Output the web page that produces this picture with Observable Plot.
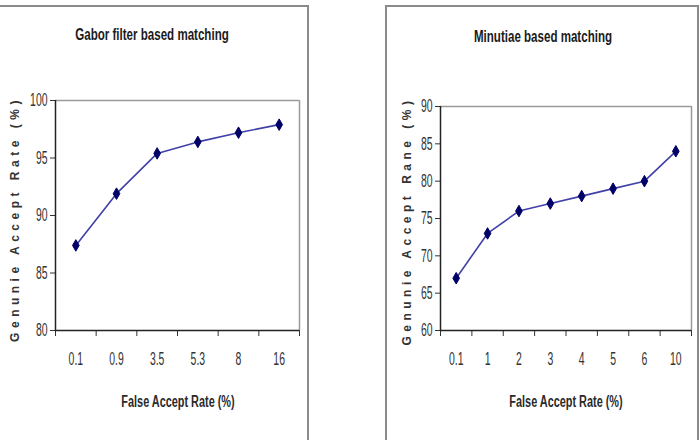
<!DOCTYPE html>
<html>
<head>
<meta charset="utf-8">
<script src="https://cdn.jsdelivr.net/npm/d3@7"></script>
<script src="https://cdn.jsdelivr.net/npm/@observablehq/plot@0.6"></script>
<style>
  html, body { margin: 0; padding: 0; background: #fff; }
  #page { position: relative; width: 700px; height: 440px; overflow: hidden; background: #fff; }
  .box { position: absolute; border: 2px solid #8a8a8a; border-bottom: none; box-sizing: border-box; }
  .abs { position: absolute; }
  .title { font-family: "Liberation Sans", Arial, sans-serif; font-weight: bold; font-size: 17px; color: #1a1a1a; white-space: nowrap; transform: translate(-50%, -50%) scaleX(0.68); }
  .xtitle { font-family: "Liberation Sans", Arial, sans-serif; font-weight: bold; font-size: 16px; color: #2a2a2a; white-space: nowrap; transform: translate(-50%, -50%) scaleX(0.68); }
  .ytitle { font-family: "Liberation Sans", Arial, sans-serif; font-weight: bold; font-size: 12px; letter-spacing: 4.5px; color: #333; white-space: nowrap; transform: translate(-50%, -50%) rotate(-90deg); }
</style>
</head>
<body>
<div id="page"></div>
<script>
const gaborCats = ["0.1", "0.9", "3.5", "5.3", "8", "16"];
const gaborGAR = [87.4, 91.9, 95.4, 96.4, 97.2, 97.9];
const gaborYTicks = [80, 85, 90, 95, 100];

const minutiaeCats = ["0.1", "1", "2", "3", "4", "5", "6", "10"];
const minutiaeGAR = [67, 73, 76, 77, 78, 79, 80, 84];
const minutiaeYTicks = [60, 65, 70, 75, 80, 85, 90];

const titles = ["Gabor filter based matching", "Minutiae based matching"];
const xTitle = "False Accept Rate (%)";
const yTitles = ["Genunie Accept Rate (%)", "Genunie Accept Rane (%)"];

const font = '"Liberation Sans", Arial, sans-serif';

function panel({cats, values, yTicks, width, marginLeft, marginRight, marginTop, marginBottom}) {
  const data = cats.map((c, i) => ({i, c, v: values[i]}));
  const yDomain = [yTicks[0], yTicks[yTicks.length - 1]];
  const n = cats.length;
  return Plot.plot({
    width, height: 440, marginLeft, marginRight, marginTop, marginBottom,
    style: {background: "transparent", fontFamily: font, fontSize: "18px", color: "#333", overflow: "visible"},
    x: {type: "linear", domain: [0, n], axis: null},
    y: {domain: yDomain, axis: null},
    marks: [
      Plot.ruleY([yDomain[1]], {stroke: "#9a9a9a", strokeWidth: 1.5}),
      Plot.ruleX([n], {stroke: "#9a9a9a", strokeWidth: 1.5}),
      Plot.axisY({ticks: yTicks, tickSize: 5, tickPadding: 3, label: null, tickFormat: d => String(d), stroke: "#333", fill: "#333"}),
      Plot.axisX({ticks: d3.range(n + 1), tickSize: 6, tickFormat: () => "", label: null, stroke: "#333"}),
      Plot.axisX({ticks: d3.range(n).map(i => i + 0.5), tickSize: 0, tickPadding: 22, tickFormat: t => cats[Math.round(t - 0.5)], label: null, fill: "#333"}),
      Plot.ruleY([yDomain[0]], {stroke: "#222", strokeWidth: 1.5}),
      Plot.ruleX([0], {stroke: "#222", strokeWidth: 1.5}),
      Plot.line(data, {x: d => d.i + 0.5, y: "v", stroke: "#4040a8", strokeWidth: 1.6}),
      Plot.dot(data, {x: d => d.i + 0.5, y: "v", symbol: "diamond", r: 3.5, fill: "#000066", stroke: "#000066", strokeWidth: 1})
    ]
  });
}

function condense(svg, k) {
  svg.querySelectorAll("text").forEach(t => {
    const L = t.getComputedTextLength();
    if (L > 0) {
      t.setAttribute("textLength", (L * k).toFixed(2));
      t.setAttribute("lengthAdjust", "spacingAndGlyphs");
    }
  });
}

const page = document.getElementById("page");

function addDiv(cls, text, x, y, extra) {
  const d = document.createElement("div");
  d.className = cls + " abs";
  if (text) d.textContent = text;
  d.style.left = x + "px";
  d.style.top = y + "px";
  if (extra) Object.assign(d.style, extra);
  page.appendChild(d);
  return d;
}

// panel frames
addDiv("box", "", -2, 5, {width: "311px", height: "440px"});
addDiv("box", "", 385, 5, {width: "314px", height: "440px"});

// left chart
const left = panel({cats: gaborCats, values: gaborGAR, yTicks: gaborYTicks, width: 308, marginLeft: 55, marginRight: 9, marginTop: 100, marginBottom: 110});
left.style.position = "absolute"; left.style.left = "0px"; left.style.top = "0px";
page.appendChild(left);
condense(left, 0.58);

// right chart
const right = panel({cats: minutiaeCats, values: minutiaeGAR, yTicks: minutiaeYTicks, width: 350, marginLeft: 90, marginRight: 9, marginTop: 106, marginBottom: 110});
right.style.position = "absolute"; right.style.left = "350px"; right.style.top = "0px";
page.appendChild(right);
condense(right, 0.58);

// titles
addDiv("title", titles[0], 152, 35);
addDiv("title", titles[1], 543, 37);
addDiv("xtitle", xTitle, 178, 402);
addDiv("xtitle", xTitle, 566, 402);
addDiv("ytitle", yTitles[0], 15, 219);
addDiv("ytitle", yTitles[1], 407, 221);
</script>
</body>
</html>
